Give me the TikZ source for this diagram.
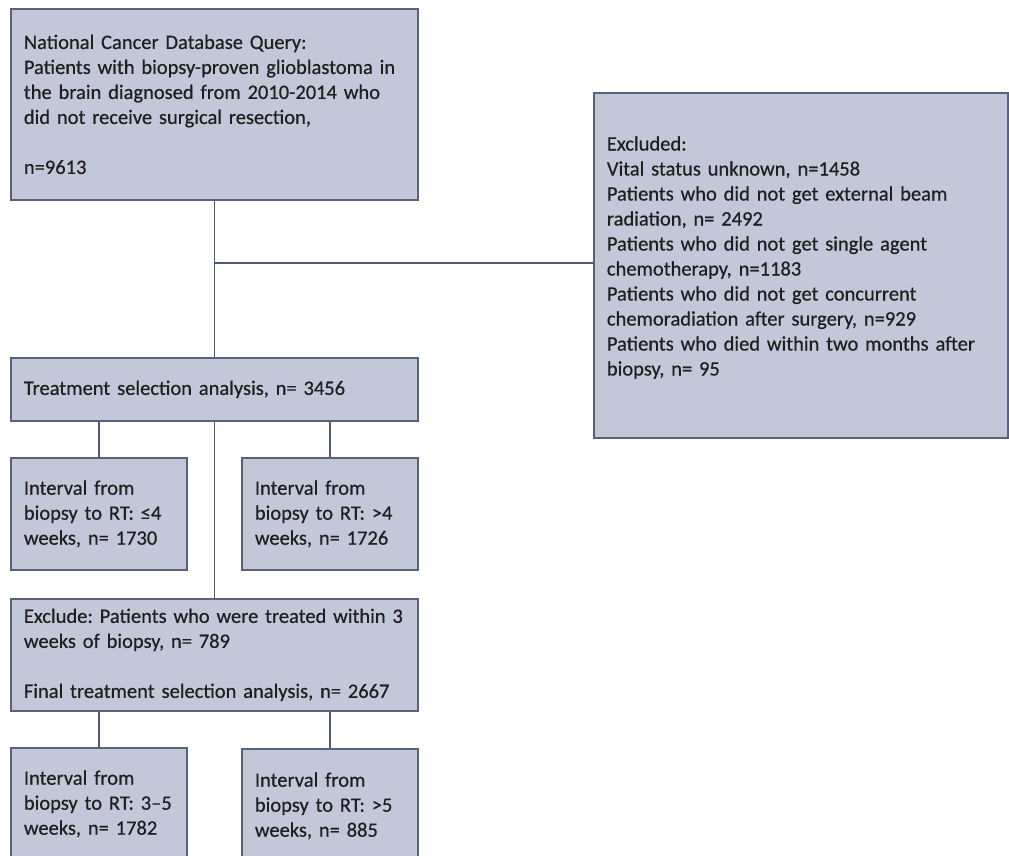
\documentclass[tikz,border=0pt]{standalone}
\usepackage{fontspec}
\setmainfont{Carlito}
\newfontfamily\boxfont[FakeBold=0.5]{Carlito}
\usepackage{tikz}
\frenchspacing
\definecolor{boxfill}{RGB}{194,200,215}
\definecolor{boxline}{RGB}{88,98,124}
\definecolor{linkline}{RGB}{78,88,128}

\begin{document}
\begin{tikzpicture}[x=1pt, y=-1pt,
  fbox/.style={draw=boxline, line width=1.8pt, fill=boxfill, rectangle, anchor=north west,
    align=left, inner xsep=13pt, inner ysep=0pt, text=black!88,
    font=\boxfont\fontsize{20.5}{25}\selectfont},
  link/.style={draw=linkline, line width=1.7pt}]
  \useasboundingbox (0,0) rectangle (1009,856);
  \node[fbox, text width=381pt, minimum height=191pt] (query) at (10,8)
    {National Cancer Database Query:\\ Patients with biopsy-proven glioblastoma in\\
     the brain diagnosed from 2010-2014 who\\ did not receive surgical resection,\\[25pt] n=9613};
  \node[fbox, text width=388pt, minimum height=345pt] (excl) at (593,92)
    {Excluded:\\ Vital status unknown,\hspace{7pt}n=1458\\ Patients who did not get external beam\\
     radiation, n= 2492\\ Patients who did not get single agent\\ chemotherapy,\hspace{7pt}n=1183\\
     Patients who did not get concurrent\\ chemoradiation after surgery, n=929\\
     Patients who died within two months\hspace{7pt}after\\ biopsy, n= 95\\[-6pt]\mbox{}};
  \node[fbox, text width=381pt, minimum height=63pt] (treat) at (10,357)
    {Treatment\hspace{7pt}selection analysis, n= 3456};
  \node[fbox, text width=150pt, minimum height=112pt] (le4) at (10,457)
    {Interval from\\ biopsy to RT: ≤4\\ weeks, n= 1730};
  \node[fbox, text width=150pt, minimum height=112pt] (gt4) at (241,457)
    {Interval from\\ biopsy to RT: >4\\ weeks, n= 1726};
  \node[fbox, text width=381pt, minimum height=112pt] (wk3) at (10,598)
    {Exclude: Patients who were treated within 3\\ weeks of biopsy, n= 789\\[25pt]
     Final treatment\hspace{7pt}selection analysis, n= 2667};
  \node[fbox, text width=150pt, minimum height=112pt] (mid) at (10,747)
    {Interval from\\ biopsy to RT: 3–5\\ weeks, n= 1782};
  \node[fbox, text width=150pt, minimum height=114pt] (gt5) at (241,748)
    {Interval from\\ biopsy to RT: >5\\ weeks, n= 885};
  % connectors
  \coordinate (fork) at (query.south |- 0,263);
  \draw[link] (query.south) -- (treat.north);
  \draw[link] (fork) -- (fork -| excl.west);
  \draw[link] (treat.south -| le4.north) -- (le4.north);
  \draw[link] (treat.south -| gt4.north) -- (gt4.north);
  \draw[link] (treat.south) -- (wk3.north);
  \draw[link] (wk3.south -| mid.north) -- (mid.north);
  \draw[link] (wk3.south -| gt5.north) -- (gt5.north);
\end{tikzpicture}
\end{document}
